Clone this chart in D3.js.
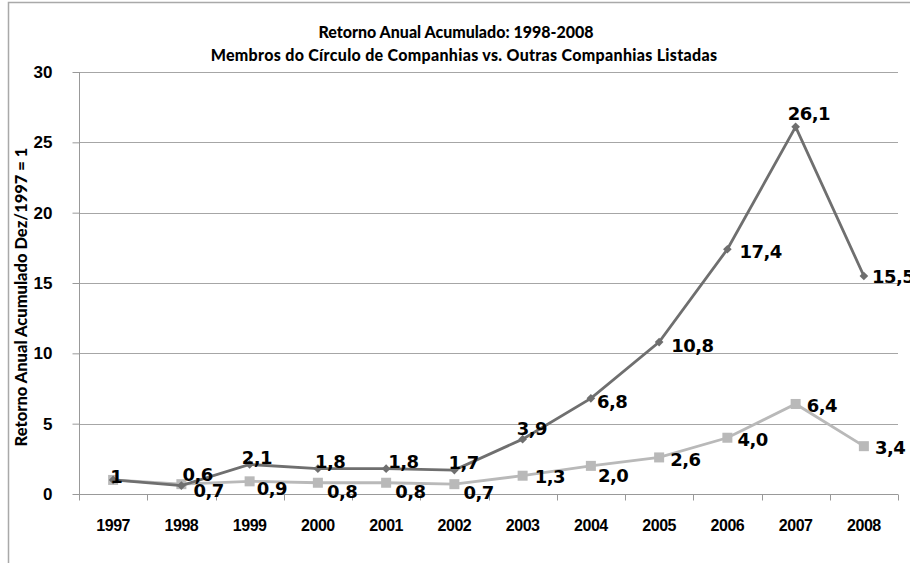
<!DOCTYPE html>
<html>
<head>
<meta charset="utf-8">
<script src="https://cdn.jsdelivr.net/npm/d3@7"></script>
<style>
  body { margin: 0; background: #fff; }
  svg { display: block; }
</style>
</head>
<body>
<div id="chart"></div>
<script>
// data
var years = ["1997", "1998", "1999", "2000", "2001", "2002", "2003", "2004", "2005", "2006", "2007", "2008"];
var circulo = [1, 0.6, 2.1, 1.8, 1.8, 1.7, 3.9, 6.8, 10.8, 17.4, 26.1, 15.5];
var outras = [1, 0.7, 0.9, 0.8, 0.8, 0.7, 1.3, 2.0, 2.6, 4.0, 6.4, 3.4];
var yTicks = [0, 5, 10, 15, 20, 25, 30];

// label nudges (px) so labels sit like in the original
var circuloLabelPos = [[-3, -3], [1, -11], [-8, -7], [-3, -7], [2, -7], [-6, -8], [-6, -11], [6, 3], [12, 3], [12, 2], [-8, -13], [8, 1]];
var outrasLabelPos = [null, [12, 6], [7, 7], [9, 9], [9, 9], [9, 8], [12, 1], [7, 10], [11, 2], [10, 2], [11, 2], [11, 1]];

var width = 910, height = 563;
var margin = {left: 79, right: 12, top: 72, bottom: 69};

var svg = d3.select("#chart").append("svg")
    .attr("width", width)
    .attr("height", height);

// outer chart frame (only top and left visible in the original)
svg.append("rect")
    .attr("x", 8.5).attr("y", 2.5)
    .attr("width", width + 20).attr("height", height + 20)
    .attr("fill", "none")
    .attr("stroke", "#a9a9a9")
    .attr("stroke-width", 1.5);

var x = d3.scaleBand()
    .domain(years)
    .range([margin.left, width - margin.right]);

var y = d3.scaleLinear()
    .domain([0, 30])
    .range([height - margin.bottom, margin.top]);

var fmt = function(v) { return (v === 1 ? "1" : d3.format(".1f")(v)).replace(".", ","); };

// gridlines
svg.append("g")
    .selectAll("line")
    .data(yTicks.filter(d => d > 0))
    .enter().append("line")
    .attr("x1", margin.left).attr("x2", width - margin.right)
    .attr("y1", d => Math.round(y(d)) + 0.5).attr("y2", d => Math.round(y(d)) + 0.5)
    .attr("stroke", "#a6a6a6");

// y axis
var yAxis = svg.append("g")
    .attr("transform", "translate(" + (margin.left + 0.5) + ",0)")
    .call(d3.axisLeft(y).tickValues(yTicks).tickSize(7).tickPadding(20));
yAxis.select(".domain").attr("stroke", "#999").attr("d", "M0," + y(30) + "V" + y(0));
yAxis.selectAll(".tick line").attr("stroke", "#999");
yAxis.selectAll("text")
    .attr("fill", "#000")
    .style("font-family", "Liberation Sans")
    .style("font-weight", "bold")
    .style("font-size", "17px");

// x axis, ticks on band boundaries
var xAxisG = svg.append("g")
    .attr("transform", "translate(0," + (Math.round(y(0)) + 0.5) + ")");
xAxisG.append("line")
    .attr("x1", margin.left).attr("x2", width - margin.right)
    .attr("stroke", "#999");
xAxisG.selectAll(".tk")
    .data(years.concat(["end"]))
    .enter().append("line")
    .attr("class", "tk")
    .attr("x1", (d, i) => Math.round(margin.left + i * x.step()) + 0.5)
    .attr("x2", (d, i) => Math.round(margin.left + i * x.step()) + 0.5)
    .attr("y1", 0).attr("y2", 6)
    .attr("stroke", "#999");
xAxisG.selectAll(".lbl")
    .data(years)
    .enter().append("text")
    .attr("class", "lbl")
    .attr("x", d => x(d) + x.bandwidth() / 2)
    .attr("y", 36)
    .attr("text-anchor", "middle")
    .style("font-family", "Liberation Sans")
    .style("font-weight", "bold")
    .style("font-size", "16px")
    .style("letter-spacing", "-0.5px")
    .text(d => d);

var cx = function(i) { return x(years[i]) + x.bandwidth() / 2; };

var line = d3.line()
    .x((d, i) => cx(i))
    .y(d => y(d));

// light series: outras companhias
svg.append("path")
    .datum(outras)
    .attr("d", line)
    .attr("fill", "none")
    .attr("stroke", "#b9b9b9")
    .attr("stroke-width", 2.8);

svg.selectAll(".sq")
    .data(outras)
    .enter().append("rect")
    .attr("class", "sq")
    .attr("x", (d, i) => cx(i) - 5)
    .attr("y", d => y(d) - 5)
    .attr("width", 10).attr("height", 10)
    .attr("fill", "#b9b9b9");

// dark series: circulo de companhias
svg.append("path")
    .datum(circulo)
    .attr("d", line)
    .attr("fill", "none")
    .attr("stroke", "#6f6f6f")
    .attr("stroke-width", 2.8);

svg.selectAll(".dm")
    .data(circulo)
    .enter().append("path")
    .attr("class", "dm")
    .attr("d", d3.symbol().type(d3.symbolDiamond2).size(48))
    .attr("transform", (d, i) => "translate(" + cx(i) + "," + y(d) + ")")
    .attr("fill", "#6f6f6f");

// data labels
function addLabels(data, pos, cls) {
    var items = data.map((v, i) => ({v: v, i: i, p: pos[i]})).filter(d => d.p !== null);
    svg.selectAll("." + cls)
        .data(items)
        .enter().append("text")
        .attr("class", cls)
        .attr("x", d => cx(d.i) + d.p[0])
        .attr("y", d => y(d.v) + d.p[1])
        .attr("dy", "0.36em")
        .style("font-family", "DejaVu Sans")
        .style("font-weight", "bold")
        .style("font-size", "18px")
        .style("letter-spacing", "-0.5px")
        .text(d => fmt(d.v));
}
addLabels(outras, outrasLabelPos, "lo");
addLabels(circulo, circuloLabelPos, "lc");

// titles
var title = svg.append("g")
    .attr("text-anchor", "middle")
    .style("font-family", "Lato")
    .style("font-weight", "900")
    .style("font-size", "16px");
title.append("text").attr("x", 456).attr("y", 38).text("Retorno Anual Acumulado: 1998-2008");
title.append("text").attr("x", 464).attr("y", 61)
    .style("letter-spacing", "0.3px")
    .text("Membros do Círculo de Companhias vs. Outras Companhias Listadas");

svg.append("text")
    .attr("transform", "translate(27,297) rotate(-90)")
    .attr("text-anchor", "middle")
    .style("font-family", "Lato")
    .style("font-weight", "900")
    .style("font-size", "16.5px")
    .text("Retorno Anual Acumulado Dez/1997 = 1");
</script>
</body>
</html>
